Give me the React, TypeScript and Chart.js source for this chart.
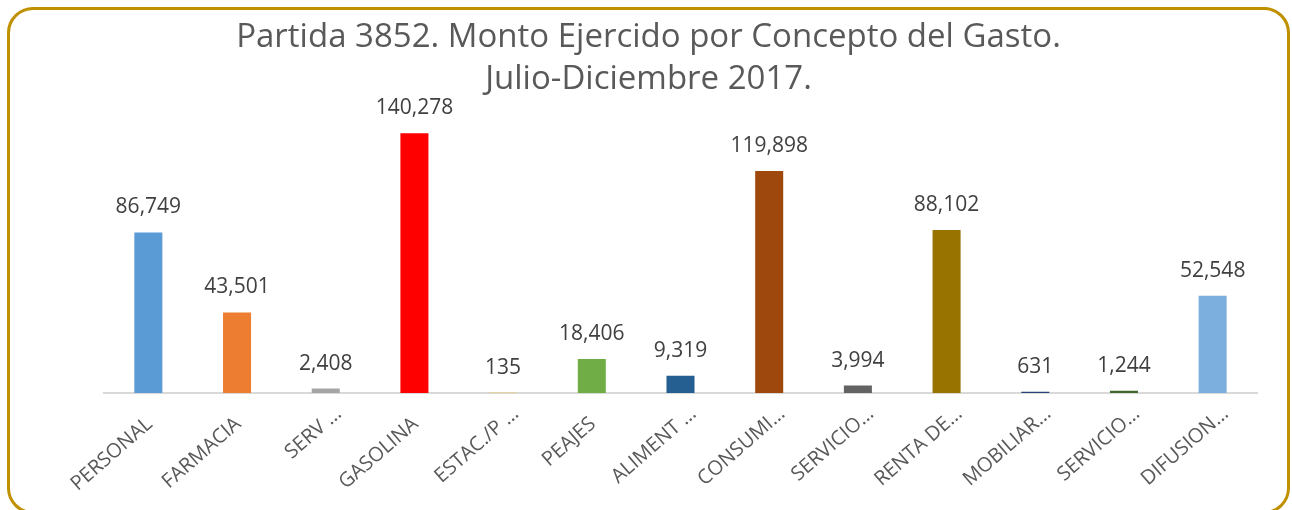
import React, { useEffect, useRef } from "react";
import { Chart, registerables } from "chart.js";

Chart.register(...registerables);

const categories = [
  "PERSONAL",
  "FARMACIA",
  "SERV …",
  "GASOLINA",
  "ESTAC./P …",
  "PEAJES",
  "ALIMENT …",
  "CONSUMI…",
  "SERVICIO…",
  "RENTA DE…",
  "MOBILIAR…",
  "SERVICIO…",
  "DIFUSION…",
];
const amounts = [86749, 43501, 2408, 140278, 135, 18406, 9319, 119898, 3994, 88102, 631, 1244, 52548];
const barColors = [
  "#5B9BD5",
  "#ED7D31",
  "#A5A5A5",
  "#FF0000",
  "#FFC000",
  "#70AD47",
  "#255E91",
  "#9E480E",
  "#636363",
  "#997300",
  "#264478",
  "#43682B",
  "#7CAFDD",
];
const titleLines = ["Partida 3852. Monto Ejercido por Concepto del Gasto.", "Julio-Diciembre 2017."];
const yMax = 160000;

const FONT = "'Open Sans', 'Noto Sans', sans-serif";

const valueLabels = {
  id: "valueLabels",
  afterDatasetsDraw(chart: any) {
    const { ctx } = chart;
    const meta = chart.getDatasetMeta(0);
    ctx.save();
    ctx.font = `21px ${FONT}`;
    ctx.fillStyle = "#404040";
    ctx.textAlign = "center";
    ctx.textBaseline = "middle";
    meta.data.forEach((el: any, i: number) => {
      ctx.fillText(amounts[i].toLocaleString("en-US"), el.x, el.y - 25);
    });
    ctx.restore();
  },
};

export default function App() {
  const canvasRef = useRef<HTMLCanvasElement | null>(null);

  useEffect(() => {
    if (!canvasRef.current) return;
    const chart = new Chart(canvasRef.current, {
      type: "bar",
      data: {
        labels: categories,
        datasets: [
          {
            data: amounts,
            backgroundColor: barColors,
            borderWidth: 0,
            categoryPercentage: 1,
            barPercentage: 0.316,
          },
        ],
      },
      options: {
        animation: false,
        responsive: true,
        maintainAspectRatio: false,
        layout: { padding: { left: 0, right: 0, top: 0, bottom: 0 } },
        plugins: {
          legend: { display: false },
          tooltip: { enabled: false },
          title: {
            display: true,
            text: titleLines,
            color: "#595959",
            font: { family: FONT, size: 33, weight: "normal", lineHeight: 1.27 },
            padding: { top: 7, bottom: -4 },
          },
        },
        scales: {
          y: {
            display: true,
            position: "left",
            min: 0,
            max: yMax,
            grid: { display: false },
            border: { display: false },
            ticks: { display: false },
            afterFit: (scale: any) => {
              scale.width = 94;
            },
          },
          yRight: {
            type: "linear",
            display: true,
            position: "right",
            min: 0,
            max: yMax,
            grid: { display: false },
            border: { display: false },
            ticks: { display: false },
            afterFit: (scale: any) => {
              scale.width = 30;
            },
          },
          x: {
            grid: { display: false },
            border: { display: true, color: "#D9D9D9", width: 2 },
            ticks: {
              autoSkip: false,
              minRotation: 41,
              maxRotation: 41,
              color: "#595959",
              font: { family: FONT, size: 20 },
              padding: 1,
              labelOffset: 13,
              callback: (_v: any, i: number) => {
                const s = categories[i];
                return s.endsWith("…") ? s : s + "   ";
              },
            },
            afterFit: (scale: any) => {
              scale.height = 118;
              scale.paddingLeft = 0;
              scale.paddingRight = 0;
            },
          },
        },
      },
      plugins: [valueLabels],
    });
    return () => chart.destroy();
  }, []);

  return (
    <div
      style={{
        position: "fixed",
        left: 0,
        top: 0,
        width: 1292,
        height: 510,
        overflow: "hidden",
        background: "#ffffff",
      }}
    >
      <div
        style={{
          position: "absolute",
          left: 7,
          top: 7,
          width: 1283,
          height: 507,
          boxSizing: "border-box",
          border: "3px solid #BF9000",
          borderRadius: 26,
          overflow: "hidden",
        }}
      >
        <div style={{ position: "relative", width: 1277, height: 501 }}>
          <canvas ref={canvasRef} />
        </div>
      </div>
    </div>
  );
}
